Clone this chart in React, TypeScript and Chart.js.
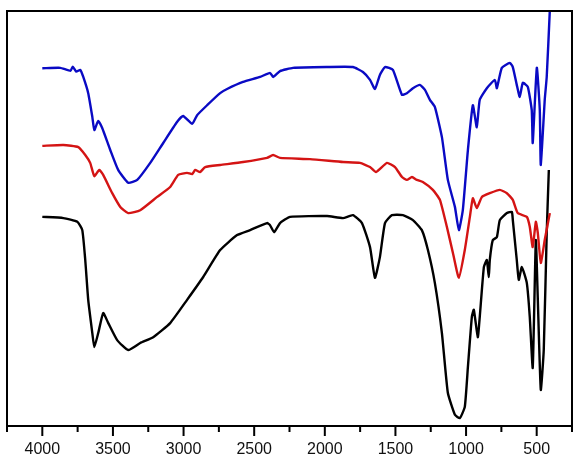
import { useEffect, useRef } from "react";
import { Chart, registerables } from "chart.js";

Chart.register(...registerables);

// Wavenumber (cm-1) and relative transmittance
const blueWavenumber = [4000, 3873, 3800, 3785, 3760, 3731, 3710, 3675, 3646, 3632, 3604, 3576, 3519, 3463, 3392, 3328, 3236, 3144, 3045, 3003, 2939, 2904, 2833, 2741, 2692, 2579, 2458, 2388, 2366, 2317, 2225, 1984, 1801, 1730, 1680, 1645, 1610, 1574, 1518, 1454, 1419, 1376, 1327, 1291, 1256, 1221, 1171, 1129, 1079, 1051, 1023, 987, 952, 924, 903, 853, 796, 782, 747, 690, 669, 641, 620, 598, 563, 535, 528, 499, 478, 471, 443, 429, 407, 400];
const blueT = [86.2, 86.3, 85.6, 86.6, 85.4, 85.8, 84.1, 80.2, 74.5, 71.3, 73.5, 71.8, 66.5, 61.7, 58.6, 59.3, 63.4, 68.2, 73.3, 74.7, 72.8, 74.9, 77.3, 80.2, 81.2, 82.9, 84.1, 85.1, 84.1, 85.5, 86.3, 86.5, 86.5, 85.3, 83.4, 81.2, 84.6, 86.5, 85.8, 79.8, 80.2, 81.4, 82.2, 81.0, 78.6, 76.9, 69.6, 59.3, 52.8, 47.2, 52.0, 66.5, 77.3, 72.0, 78.6, 81.4, 83.4, 81.4, 86.3, 87.5, 86.5, 82.2, 79.3, 82.7, 81.7, 76.1, 68.2, 86.3, 76.1, 62.9, 78.6, 84.1, 100.2, 107];

const redWavenumber = [4000, 3851, 3745, 3696, 3661, 3632, 3597, 3569, 3505, 3448, 3392, 3307, 3187, 3095, 3038, 2975, 2939, 2918, 2883, 2847, 2741, 2579, 2409, 2366, 2317, 2105, 1871, 1751, 1680, 1638, 1560, 1503, 1454, 1419, 1383, 1348, 1306, 1235, 1185, 1136, 1093, 1051, 1009, 973, 952, 924, 888, 832, 761, 711, 669, 634, 570, 549, 528, 506, 492, 471, 443, 407];
const redT = [67.5, 67.7, 67.2, 65.3, 63.4, 60.2, 61.7, 60.5, 56.1, 52.8, 51.3, 52.0, 55.2, 57.6, 60.5, 61.0, 60.7, 61.7, 61.2, 62.4, 62.9, 63.6, 64.6, 65.3, 64.6, 64.3, 63.6, 63.4, 62.4, 61.2, 63.4, 62.4, 60.0, 59.3, 60.0, 59.3, 58.8, 56.9, 54.5, 48.0, 41.7, 35.7, 42.4, 50.4, 54.9, 52.5, 55.2, 56.1, 56.9, 56.1, 54.5, 51.3, 50.4, 48.0, 43.1, 49.2, 46.5, 39.3, 44.8, 51.3];

const blackWavenumber = [4000, 3851, 3752, 3717, 3696, 3675, 3646, 3632, 3604, 3569, 3533, 3470, 3392, 3307, 3215, 3095, 2975, 2861, 2741, 2621, 2529, 2409, 2388, 2359, 2317, 2246, 1984, 1871, 1801, 1737, 1680, 1645, 1610, 1574, 1525, 1447, 1376, 1313, 1270, 1221, 1171, 1129, 1079, 1044, 1009, 987, 959, 945, 917, 903, 874, 853, 839, 832, 811, 782, 761, 711, 676, 669, 641, 627, 605, 570, 549, 528, 506, 492, 471, 450, 429, 414];
const blackT = [50.4, 50.1, 49.2, 47.2, 40.0, 30.4, 22.4, 19.0, 22.4, 27.2, 24.8, 20.7, 18.3, 20.0, 21.4, 24.8, 30.4, 35.9, 42.4, 46.0, 47.2, 48.9, 48.4, 46.7, 48.9, 50.4, 50.6, 50.1, 50.8, 48.9, 43.1, 35.7, 40.7, 48.9, 50.8, 50.8, 49.6, 47.2, 42.4, 34.5, 22.4, 8.0, 2.7, 1.9, 4.6, 14.2, 26.3, 28.0, 21.4, 26.3, 38.3, 40.0, 35.9, 40.0, 44.8, 45.5, 49.6, 51.3, 51.6, 49.6, 40.0, 35.2, 38.3, 34.5, 26.3, 14.0, 44.8, 30.4, 8.7, 18.3, 46.5, 61.7];

const majorTicks = [4000, 3500, 3000, 2500, 2000, 1500, 1000, 500];
const minorTicks = [4250, 3750, 3250, 2750, 2250, 1750, 1250, 750, 250];

const toPoints = (xs: number[], ys: number[]) => xs.map((x, i) => ({ x, y: ys[i] }));

const framePlugin = {
  id: "frameAndTicks",
  afterDatasetsDraw(chart: any) {
    const { ctx, chartArea } = chart;
    const xScale = chart.scales.x;
    ctx.save();
    ctx.strokeStyle = "#000";
    ctx.lineWidth = 2;
    ctx.strokeRect(chartArea.left, chartArea.top, chartArea.right - chartArea.left, chartArea.bottom - chartArea.top);
    ctx.beginPath();
    majorTicks.forEach((v) => {
      const px = xScale.getPixelForValue(v);
      ctx.moveTo(px, chartArea.bottom);
      ctx.lineTo(px, chartArea.bottom + 10);
    });
    minorTicks.forEach((v) => {
      const px = xScale.getPixelForValue(v);
      ctx.moveTo(px, chartArea.bottom);
      ctx.lineTo(px, chartArea.bottom + 6);
    });
    ctx.stroke();
    ctx.fillStyle = "#111";
    ctx.font = "16px 'Liberation Sans', Arial, sans-serif";
    ctx.textAlign = "center";
    ctx.textBaseline = "middle";
    majorTicks.forEach((v) => {
      const px = xScale.getPixelForValue(v);
      ctx.fillText(String(v), px, chartArea.bottom + 24);
    });
    ctx.restore();
  },
};

export default function App() {
  const canvasRef = useRef<HTMLCanvasElement | null>(null);

  useEffect(() => {
    document.body.style.margin = "0";
    const canvas = canvasRef.current;
    if (!canvas) return;
    const chart = new Chart(canvas, {
      type: "line",
      data: {
        datasets: [
          {
            label: "blue",
            data: toPoints(blueWavenumber, blueT),
            borderColor: "#0a0ac4",
            borderWidth: 2.4,
            pointRadius: 0,
            tension: 0.15,
            fill: false,
          },
          {
            label: "red",
            data: toPoints(redWavenumber, redT),
            borderColor: "#d41414",
            borderWidth: 2.4,
            pointRadius: 0,
            tension: 0.15,
            fill: false,
          },
          {
            label: "black",
            data: toPoints(blackWavenumber, blackT),
            borderColor: "#000000",
            borderWidth: 2.4,
            pointRadius: 0,
            tension: 0.15,
            fill: false,
          },
        ],
      },
      options: {
        animation: false,
        responsive: false,
        maintainAspectRatio: false,
        layout: { padding: { left: 7, right: 3, top: 11, bottom: 40 } },
        plugins: { legend: { display: false }, tooltip: { enabled: false } },
        scales: {
          x: {
            type: "linear",
            reverse: true,
            min: 250,
            max: 4250,
            grid: { display: false, drawTicks: false },
            border: { display: false },
            ticks: { display: false },
          },
          y: {
            display: false,
            min: 0,
            max: 100,
          },
        },
      },
      plugins: [framePlugin],
    });
    return () => chart.destroy();
  }, []);

  return (
    <div style={{ width: 575, height: 466, background: "#fff" }}>
      <canvas ref={canvasRef} width={575} height={466} style={{ display: "block" }} />
    </div>
  );
}
